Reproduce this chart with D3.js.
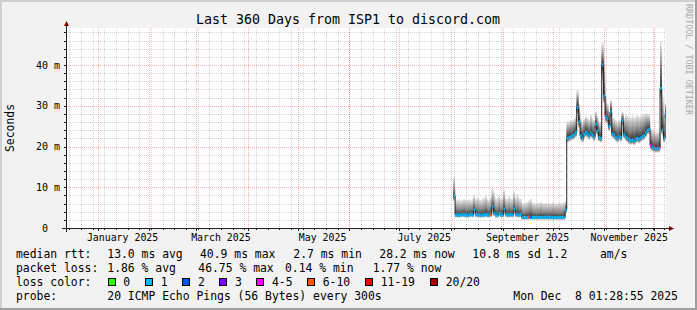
<!DOCTYPE html>
<html><head><meta charset="utf-8">
<script src="https://cdn.jsdelivr.net/npm/d3@7"></script>
<style>
html,body{margin:0;padding:0;background:#f2f2f2;}
svg{display:block;}
text{font-family:"DejaVu Sans Mono",monospace;fill:#000;white-space:pre;}
</style></head><body>
<svg id="c" width="697" height="310"></svg>
<script>
// ---------- data ----------
const title = "Last 360 Days from ISP1 to discord.com";
const yTickValues = [0, 10, 20, 30, 40];
const yTickLabels = ["0", "10 m", "20 m", "30 m", "40 m"];
const monthLabelMonths = ["2025-01", "2025-03", "2025-05", "2025-07", "2025-09", "2025-11"];
const graphStart = Date.UTC(2024, 11, 13, 1, 28, 55);
const graphEnd = Date.UTC(2025, 11, 8, 1, 28, 55);
const firstSample = Date.UTC(2025, 7, 2, 12, 0, 0); // one sample per day from here
const median = [7.9,
 3.2,3.2,3.1,3.2,3.3,3.2,3.2,3.1,3.2,3.3,3.2,
 4.4,
 3.3,3.2,3.2,3.1,3.2,3.2,3.3,3.2,3.2,
 3.3,5.2,3.6,
 3.2,3.1,3.6,3.2,3.2,
 4.7,
 3.3,3.2,3.2,3.3,3.2,
 4.7,
 3.3,3.2,3.2,3.3,
 2.6,2.6,2.6,2.6,2.7,2.7,2.6,2.6,2.6,2.6,2.6,2.6,2.6,2.6,2.7,2.6,2.6,2.6,2.6,2.6,2.6,2.6,2.6,2.6,2.6,2.6,
 4.4,
 22.0,22.2,22.4,22.6,22.9,23.4,29.6,26.0,22.6,22.0,
 23.0,23.5,23.1,22.7,23.3,22.9,22.3,25.4,23.8,22.2,
 22.0,40.0,32.4,27.3,26.9,25.0,28.5,23.2,22.8,22.3,
 22.0,22.5,22.2,26.3,23.0,22.4,22.0,21.6,21.4,21.6,
 21.3,21.8,22.0,21.8,22.1,22.4,22.7,23.4,24.0,24.2,
 20.3,19.8,19.6,19.5,19.5,19.6,34.3,24.0,22.0,28.1,
 28.2];
const pingMax = [12.6,
 6.8,6.9,7.0,6.7,6.9,7.2,6.8,6.9,7.0,6.8,7.1,
 8.1,
 7.0,7.6,7.0,6.9,7.2,7.4,8.0,7.1,7.0,
 7.6,9.8,8.6,
 7.2,7.3,8.1,7.2,7.4,
 9.3,
 7.3,7.1,7.8,7.2,7.3,
 9.0,
 7.4,8.3,7.2,7.1,
 6.1,6.0,6.2,6.4,6.9,7.2,6.3,6.1,6.0,6.2,6.0,6.5,6.1,6.0,6.2,6.0,6.1,6.0,6.3,6.0,6.1,6.0,6.2,6.0,6.1,6.3,
 6.6,
 26.2,26.0,26.5,26.3,26.8,27.5,33.9,30.5,26.8,26.0,
 26.8,27.5,27.0,26.5,27.8,26.8,26.4,28.6,27.5,26.0,
 26.0,45.5,41.0,32.0,30.5,28.5,31.4,27.0,26.8,26.5,
 26.0,26.6,26.4,28.5,27.0,27.8,27.5,27.2,27.0,27.6,
 27.0,27.4,27.6,27.2,27.5,27.8,28.0,28.2,28.0,27.8,
 24.5,24.0,23.8,23.6,23.5,23.8,45.7,33.0,26.0,30.6,
 30.0];
const pingUpper = [9.5,
 4.6,4.7,4.5,4.6,4.7,4.8,4.6,4.5,4.7,4.6,4.8,
 5.8,
 4.7,5.0,4.6,4.6,4.7,4.8,5.2,4.7,4.6,
 5.0,6.8,5.6,
 4.7,4.6,5.2,4.7,4.8,
 6.4,
 4.8,4.7,5.0,4.7,4.7,
 6.2,
 4.8,5.2,4.7,4.7,
 3.9,3.8,3.9,4.0,4.3,4.5,4.0,3.9,3.8,3.9,3.8,4.1,3.9,3.8,3.9,3.8,3.9,3.8,4.0,3.8,3.9,3.8,3.9,3.8,3.9,4.0,
 5.4,
 24.0,24.1,24.4,24.5,24.8,25.4,31.8,28.2,24.5,24.0,
 24.9,25.4,25.0,24.6,25.3,24.8,24.3,27.0,25.6,24.1,
 24.0,42.5,36.5,29.6,28.7,26.8,30.0,25.0,24.7,24.3,
 24.0,24.5,24.2,27.4,25.0,24.8,24.4,24.0,23.8,24.2,
 23.8,24.3,24.5,24.2,24.6,24.9,25.2,25.8,26.0,26.0,
 22.0,21.6,21.4,21.3,21.3,21.5,40.0,28.0,24.0,29.4,
 29.2];
const pingMin = [6.5,
 2.6,2.6,2.5,2.6,2.7,2.6,2.6,2.5,2.6,2.7,2.6,
 3.6,
 2.7,2.6,2.6,2.5,2.6,2.6,2.7,2.6,2.6,
 2.7,4.3,2.9,
 2.6,2.5,2.9,2.6,2.6,
 3.9,
 2.7,2.6,2.6,2.7,2.6,
 3.9,
 2.7,2.6,2.6,2.7,
 2.0,2.0,2.0,2.0,2.1,2.1,2.0,2.0,2.0,2.0,2.0,2.0,2.0,2.0,2.1,2.0,2.0,2.0,2.0,2.0,2.0,2.0,2.0,2.0,2.0,2.0,
 3.6,
 21.0,21.2,21.4,21.6,21.9,22.3,27.5,24.5,21.6,21.0,
 22.0,22.4,22.1,21.7,22.2,21.9,21.3,24.2,22.7,21.2,
 21.0,36.0,30.5,25.8,25.5,23.8,27.0,22.2,21.8,21.3,
 21.0,21.5,21.2,25.0,22.0,21.4,21.0,20.6,20.4,20.6,
 20.3,20.8,21.0,20.8,21.1,21.4,21.7,22.3,22.9,23.1,
 19.3,18.8,18.6,18.5,18.5,18.6,31.5,22.8,21.0,26.8,
 27.0];
const lossCount = [0.6,
 0.4,0.3,0.4,0.5,0.4,0.3,0.4,0.4,0.5,0.4,0.3,
 0.6,
 0.4,0.4,0.3,0.4,0.5,0.4,0.4,0.3,0.4,
 7.0,0.8,0.5,
 0.4,0.3,0.5,0.4,0.4,
 0.6,
 0.4,0.3,0.4,0.4,0.3,
 0.5,
 0.4,0.4,0.3,0.4,
 0.4,0.3,0.4,0.4,7.0,1.6,0.4,0.3,0.4,0.4,0.3,0.4,0.4,0.3,0.4,0.4,0.3,0.4,0.4,0.3,0.4,0.4,0.3,0.4,0.4,0.3,
 0.6,
 0.4,0.3,0.4,0.4,0.5,0.4,0.6,0.5,0.4,0.3,
 0.4,0.4,0.3,0.4,0.4,0.3,0.4,0.5,0.4,0.3,
 0.4,0.7,0.6,0.4,0.4,0.3,0.5,0.4,0.3,0.4,
 0.4,0.3,0.4,0.5,0.4,0.3,0.4,0.4,0.3,0.4,
 0.4,0.3,0.4,0.4,0.3,0.4,0.4,0.3,0.4,0.5,
 4.2,0.5,0.4,0.4,0.3,0.4,0.8,0.5,0.4,0.5,
 0.4];
const lossBuckets = [0, 1, 2, 3, 5, 10, 19, 20];
const lossLabels = ["0", "1", "2", "3", "4-5", "6-10", "11-19", "20/20"];
const lossColors = ["#26ff00", "#00b8ff", "#0059ff", "#7e00ff", "#ff00ff", "#ff5500", "#ff0000", "#a00000"];
const legendRtt = ["median rtt:", "13.0 ms avg", "40.9 ms max", "2.7 ms min", "28.2 ms now", "10.8 ms sd", "1.2", "am/s"];
const legendLoss = ["packet loss:", "1.86 % avg", "46.75 % max", "0.14 % min", "1.77 % now"];
const legendProbe = ["probe:", "20 ICMP Echo Pings (56 Bytes) every 300s", "Mon Dec  8 01:28:55 2025"];
const pings = 20;

// ---------- layout ----------
const W = 697, H = 310;
const X0 = 66, X1 = 666, YT = 28, YB = 228;
const svg = d3.select("#c");
const DAY = 86400000;

const x = d3.scaleUtc().domain([graphStart, graphEnd]).range([X0, X1]).clamp(true);
const y = d3.scaleLinear().domain([0, 200 / 4.075]).range([YB, YT]);

svg.append("rect").attr("x", 0).attr("y", 0).attr("width", W).attr("height", H).attr("fill", "#f2f2f2");
svg.append("rect").attr("x", 0).attr("y", 0).attr("width", W).attr("height", 2).attr("fill", "#cfcfcf");
svg.append("rect").attr("x", 0).attr("y", 0).attr("width", 2).attr("height", H).attr("fill", "#cfcfcf");
svg.append("rect").attr("x", 0).attr("y", H - 2).attr("width", W).attr("height", 2).attr("fill", "#9e9e9e");
svg.append("rect").attr("x", W - 2).attr("y", 0).attr("width", 2).attr("height", H).attr("fill", "#9e9e9e");
svg.append("rect").attr("x", X0).attr("y", YT).attr("width", X1 - X0).attr("height", YB - YT).attr("fill", "#ffffff");

const samples = median.map((m, i) => ({
  t: new Date(firstSample + i * DAY),
  t2: new Date(firstSample + (i + 1) * DAY),
  med: m, lo: pingMin[i], up: pingUpper[i], hi: pingMax[i], loss: lossCount[i]
}));
const ext = samples.concat([Object.assign({}, samples[samples.length - 1], { t: new Date(firstSample + samples.length * DAY) })]);

// sorted-ping value at rank r (1..20) from the read quantiles
function cp(d, r) {
  const pts = [[1, d.lo], [10.5, d.med], [15, d.up], [20, d.hi]];
  for (let k = 0; k < pts.length - 1; k++) {
    const [r0, v0] = pts[k], [r1, v1] = pts[k + 1];
    if (r <= r1) return v0 + (v1 - v0) * (r - r0) / (r1 - r0);
  }
  return d.hi;
}

const gSmoke = svg.append("g");
const half = pings / 2;
for (let ibot = 1, itop = pings; itop > ibot; ibot++, itop--) {
  const c = Math.floor(190 / half * (half - ibot)) + 50;
  const area = d3.area().curve(d3.curveStepAfter)
    .x(d => x(d.t)).y0(d => y(cp(d, ibot))).y1(d => y(cp(d, itop)));
  gSmoke.append("path").datum(ext).attr("d", area).attr("fill", d3.rgb(c, c, c));
}

svg.append("path").datum(ext)
  .attr("d", d3.line().curve(d3.curveStepAfter).x(d => x(d.t)).y(d => y(d.med)))
  .attr("fill", "none").attr("stroke", "#202020").attr("stroke-width", 1);

function lossIndex(l) {
  if (l <= 0) return 0;
  for (let k = 1; k < lossBuckets.length; k++) if (l <= lossBuckets[k]) return k;
  return lossBuckets.length - 1;
}
svg.append("g").selectAll("rect").data(samples).join("rect")
  .attr("x", d => x(d.t)).attr("width", d => Math.max(0, x(d.t2) - x(d.t)))
  .attr("y", d => y(d.med) - 1.5).attr("height", 3)
  .attr("fill", d => lossColors[lossIndex(d.loss)]);

const gGrid = svg.append("g").attr("shape-rendering", "crispEdges");
const minorY = d3.range(2, 49, 2).filter(v => v % 10 !== 0);
gGrid.selectAll(".hy").data(minorY).join("line")
  .attr("x1", X0).attr("x2", X1).attr("y1", d => Math.round(y(d)) + 0.5).attr("y2", d => Math.round(y(d)) + 0.5)
  .attr("stroke", "rgba(150,150,150,0.4)").attr("stroke-dasharray", "1,1");
const weeks = d3.utcSunday.range(new Date(graphStart), new Date(graphEnd));
const months = d3.utcMonth.range(new Date(graphStart), new Date(graphEnd));
gGrid.selectAll(".vx").data(weeks).join("line")
  .attr("y1", YT).attr("y2", YB).attr("x1", d => Math.round(x(d)) + 0.5).attr("x2", d => Math.round(x(d)) + 0.5)
  .attr("stroke", "rgba(150,150,150,0.4)").attr("stroke-dasharray", "1,1");
gGrid.selectAll(".hmy").data(yTickValues.filter(v => v > 0)).join("line")
  .attr("x1", X0).attr("x2", X1).attr("y1", d => Math.round(y(d)) + 0.5).attr("y2", d => Math.round(y(d)) + 0.5)
  .attr("stroke", "rgba(255,0,0,0.32)").attr("stroke-dasharray", "1,1");
gGrid.selectAll(".vmx").data(months).join("line")
  .attr("y1", YT).attr("y2", YB).attr("x1", d => Math.round(x(d)) + 0.5).attr("x2", d => Math.round(x(d)) + 0.5)
  .attr("stroke", "rgba(255,0,0,0.32)").attr("stroke-dasharray", "1,1");

const gAx = svg.append("g").attr("shape-rendering", "crispEdges");
gAx.selectAll(".ty").data(d3.range(0, 49, 2)).join("line")
  .attr("x1", X0 - 2).attr("x2", X0).attr("y1", d => Math.round(y(d)) + 0.5).attr("y2", d => Math.round(y(d)) + 0.5)
  .attr("stroke", "#202020");
gAx.selectAll(".tx").data(months).join("line")
  .attr("y1", YB).attr("y2", YB + 3).attr("x1", d => Math.round(x(d)) + 0.5).attr("x2", d => Math.round(x(d)) + 0.5)
  .attr("stroke", "#202020");
gAx.selectAll(".twx").data(weeks).join("line")
  .attr("y1", YB).attr("y2", YB + 2).attr("x1", d => Math.round(x(d)) + 0.5).attr("x2", d => Math.round(x(d)) + 0.5)
  .attr("stroke", "#202020");
gAx.append("line").attr("x1", X0 + 0.5).attr("x2", X0 + 0.5).attr("y1", YB + 4).attr("y2", YT - 4).attr("stroke", "#202020");
gAx.append("line").attr("x1", X0 - 4).attr("x2", X1 + 4).attr("y1", YB + 0.5).attr("y2", YB + 0.5).attr("stroke", "#202020");
svg.append("path").attr("d", `M${X0 - 2},${YT - 2} L${X0 + 0.5},${YT - 7} L${X0 + 3},${YT - 2} Z`).attr("fill", "#800000");
svg.append("path").attr("d", `M${X1 + 3},${YB - 2} L${X1 + 8},${YB + 0.5} L${X1 + 3},${YB + 3} Z`).attr("fill", "#800000");

svg.append("g").selectAll("text").data(yTickValues).join("text")
  .attr("x", 60).attr("y", d => y(d) + 3.5).attr("text-anchor", "end")
  .style("font-size", "10px")
  .text((d, i) => yTickLabels[i] + (d === 0 ? "  " : ""));
const fmt = d3.utcFormat("%B %Y");
svg.append("g").selectAll("text").data(monthLabelMonths.map(s => new Date(s + "-01T00:00:00Z"))).join("text")
  .attr("x", d => x(new Date(+d + 15 * DAY))).attr("y", 241).attr("text-anchor", "middle")
  .style("font-size", "9.9px").text(d => fmt(d));

svg.append("text").attr("transform", "translate(13.5,128) rotate(-90)").attr("text-anchor", "middle")
  .style("font-size", "11.4px").text("Seconds");
svg.append("text").attr("x", 348).attr("y", 23.5).attr("text-anchor", "middle").style("font-size", "13.3px").text(title);
svg.append("text").attr("transform", "translate(685.5,4) rotate(90)").style("font-size", "8.4px")
  .style("fill", "#a8a8a8").text("RRDTOOL / TOBI OETIKER");

const lf = "11.4px";
const rttX = [16, 107.3, 200, 293.3, 379.3, 472.3, 546.7, 600];
legendRtt.forEach((s, i) => svg.append("text").attr("x", rttX[i]).attr("y", 258).style("font-size", lf).text(s));
const lossX = [16, 107.3, 198.3, 285, 372.7];
legendLoss.forEach((s, i) => svg.append("text").attr("x", lossX[i]).attr("y", 272).style("font-size", lf).text(s));
svg.append("text").attr("x", 16).attr("y", 286).style("font-size", lf).text("loss color:");
const boxX = [108.5, 145.5, 182.5, 219.5, 256.5, 307.5, 365.5, 430.5];
const lblX = [123.3, 160.7, 198, 235, 272, 322.7, 380.7, 445.7];
lossLabels.forEach((s, i) => {
  svg.append("rect").attr("x", boxX[i]).attr("y", 278.5).attr("width", 7).attr("height", 7)
    .attr("fill", lossColors[i]).attr("stroke", "#000").attr("stroke-width", 1);
  svg.append("text").attr("x", lblX[i]).attr("y", 286).style("font-size", lf).text(s);
});
const probeX = [16, 107.3, 513.3];
legendProbe.forEach((s, i) => svg.append("text").attr("x", probeX[i]).attr("y", 300).style("font-size", lf).text(s));
</script>
</body></html>
